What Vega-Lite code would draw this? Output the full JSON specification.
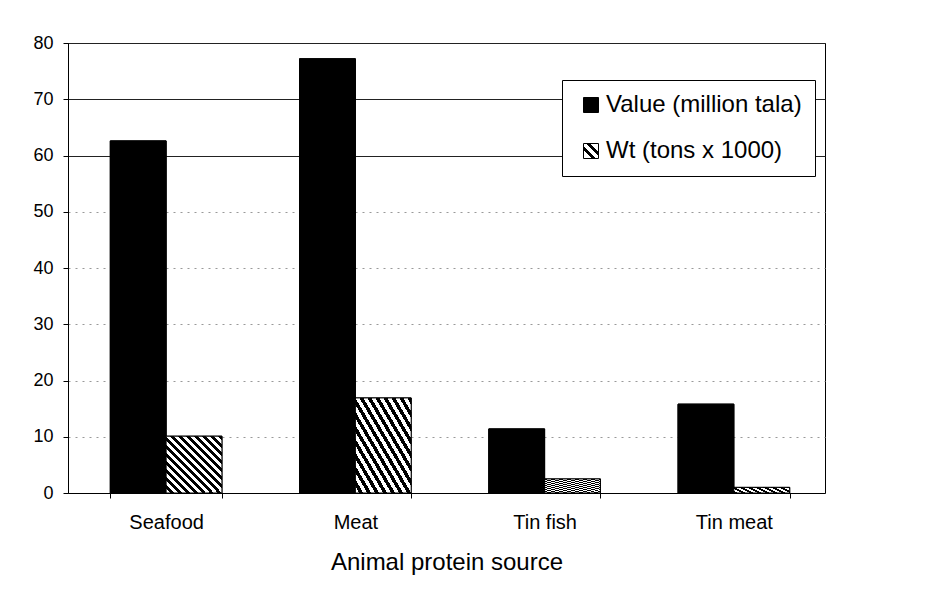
{
  "$schema": "https://vega.github.io/schema/vega-lite/v6.json",
  "width": 757,
  "height": 450,
  "autosize": "none",
  "padding": {"left": 68, "top": 43, "right": 120, "bottom": 112},
  "background": "white",
  "config": {
    "font": "Liberation Sans",
    "view": {"stroke": "black", "strokeWidth": 1}
  },
  "data": {
    "values": [
      {"source": "Seafood", "series": "Value (million tala)", "amount": 62.6},
      {"source": "Seafood", "series": "Wt (tons x 1000)", "amount": 10.1},
      {"source": "Meat", "series": "Value (million tala)", "amount": 77.2},
      {"source": "Meat", "series": "Wt (tons x 1000)", "amount": 16.9},
      {"source": "Tin fish", "series": "Value (million tala)", "amount": 11.4},
      {"source": "Tin fish", "series": "Wt (tons x 1000)", "amount": 2.5},
      {"source": "Tin meat", "series": "Value (million tala)", "amount": 15.8},
      {"source": "Tin meat", "series": "Wt (tons x 1000)", "amount": 1.0}
    ]
  },
  "encoding": {
    "x": {
      "field": "source",
      "type": "nominal",
      "sort": ["Seafood", "Meat", "Tin fish", "Tin meat"],
      "scale": {"paddingInner": 0.41, "paddingOuter": 0.205, "align": 0.545},
      "axis": {
        "title": "Animal protein source",
        "titleFontSize": 24,
        "titleFontWeight": "normal",
        "titleColor": "black",
        "titlePadding": 18,
        "labelAngle": 0,
        "labelFontSize": 20,
        "labelColor": "black",
        "labelPadding": 14,
        "tickBand": "extent",
        "tickSize": 5,
        "tickColor": "black",
        "domainColor": "black",
        "grid": false
      }
    },
    "xOffset": {
      "field": "series",
      "type": "nominal",
      "sort": ["Value (million tala)", "Wt (tons x 1000)"],
      "scale": {"paddingInner": 0, "paddingOuter": 0}
    },
    "y": {
      "field": "amount",
      "type": "quantitative",
      "scale": {"domain": [0, 80], "nice": false},
      "axis": {
        "title": null,
        "values": [0, 10, 20, 30, 40, 50, 60, 70, 80],
        "labelFontSize": 18,
        "labelColor": "black",
        "labelPadding": 10,
        "tickSize": 5,
        "tickColor": "black",
        "domainColor": "black",
        "grid": true,
        "gridColor": {"condition": {"test": "datum.value >= 60", "value": "#222"}, "value": "#999"},
        "gridDash": {"condition": {"test": "datum.value >= 60", "value": []}, "value": [2, 5]}
      }
    }
  },
  "layer": [
    {
      "mark": {"type": "bar", "stroke": "black", "strokeWidth": 1},
      "encoding": {
        "fill": {
          "field": "series",
          "type": "nominal",
          "sort": ["Value (million tala)", "Wt (tons x 1000)"],
          "scale": {
            "domain": ["Value (million tala)", "Wt (tons x 1000)"],
            "range": [
              "black",
              {"expr": "{gradient: 'linear', x1: 0, y1: 1, x2: 1, y2: 0, stops: [{offset: 0, color: 'white'}, {offset: 0.27, color: 'white'}, {offset: 0.27, color: 'black'}, {offset: 0.42, color: 'black'}, {offset: 0.42, color: 'white'}, {offset: 0.58, color: 'white'}, {offset: 0.58, color: 'black'}, {offset: 0.73, color: 'black'}, {offset: 0.73, color: 'white'}, {offset: 1, color: 'white'}]}"}
            ]
          },
          "legend": {
            "title": null,
            "orient": "none",
            "legendX": 494,
            "legendY": 37,
            "direction": "vertical",
            "fillColor": "white",
            "strokeColor": "black",
            "padding": 13,
            "symbolOffset": 4,
            "symbolType": "square",
            "symbolSize": 225,
            "symbolStrokeColor": "black",
            "symbolStrokeWidth": 1,
            "symbolOpacity": 1,
            "labelFontSize": 24,
            "labelColor": "black",
            "labelOffset": 3,
            "labelLimit": 400,
            "rowPadding": 22
          }
        }
      }
    },
    {
      "mark": {"type": "bar", "stroke": "black", "strokeWidth": 1},
      "encoding": {
        "fill": {
          "condition": {
            "test": "datum.series === 'Wt (tons x 1000)'",
            "value": {
              "gradient": "linear",
              "x1": 0, "y1": 1, "x2": 1, "y2": 0,
              "stops": [
                {"offset": 0, "color": "white"}, {"offset": 0.0357, "color": "white"},
                {"offset": 0.0357, "color": "black"}, {"offset": 0.0714, "color": "black"},
                {"offset": 0.0714, "color": "white"}, {"offset": 0.1071, "color": "white"},
                {"offset": 0.1071, "color": "black"}, {"offset": 0.1429, "color": "black"},
                {"offset": 0.1429, "color": "white"}, {"offset": 0.1786, "color": "white"},
                {"offset": 0.1786, "color": "black"}, {"offset": 0.2143, "color": "black"},
                {"offset": 0.2143, "color": "white"}, {"offset": 0.25, "color": "white"},
                {"offset": 0.25, "color": "black"}, {"offset": 0.2857, "color": "black"},
                {"offset": 0.2857, "color": "white"}, {"offset": 0.3214, "color": "white"},
                {"offset": 0.3214, "color": "black"}, {"offset": 0.3571, "color": "black"},
                {"offset": 0.3571, "color": "white"}, {"offset": 0.3929, "color": "white"},
                {"offset": 0.3929, "color": "black"}, {"offset": 0.4286, "color": "black"},
                {"offset": 0.4286, "color": "white"}, {"offset": 0.4643, "color": "white"},
                {"offset": 0.4643, "color": "black"}, {"offset": 0.5, "color": "black"},
                {"offset": 0.5, "color": "white"}, {"offset": 0.5357, "color": "white"},
                {"offset": 0.5357, "color": "black"}, {"offset": 0.5714, "color": "black"},
                {"offset": 0.5714, "color": "white"}, {"offset": 0.6071, "color": "white"},
                {"offset": 0.6071, "color": "black"}, {"offset": 0.6429, "color": "black"},
                {"offset": 0.6429, "color": "white"}, {"offset": 0.6786, "color": "white"},
                {"offset": 0.6786, "color": "black"}, {"offset": 0.7143, "color": "black"},
                {"offset": 0.7143, "color": "white"}, {"offset": 0.75, "color": "white"},
                {"offset": 0.75, "color": "black"}, {"offset": 0.7857, "color": "black"},
                {"offset": 0.7857, "color": "white"}, {"offset": 0.8214, "color": "white"},
                {"offset": 0.8214, "color": "black"}, {"offset": 0.8571, "color": "black"},
                {"offset": 0.8571, "color": "white"}, {"offset": 0.8929, "color": "white"},
                {"offset": 0.8929, "color": "black"}, {"offset": 0.9286, "color": "black"},
                {"offset": 0.9286, "color": "white"}, {"offset": 0.9643, "color": "white"},
                {"offset": 0.9643, "color": "black"}, {"offset": 1, "color": "black"}
              ]
            }
          },
          "value": "black"
        }
      }
    }
  ]
}
